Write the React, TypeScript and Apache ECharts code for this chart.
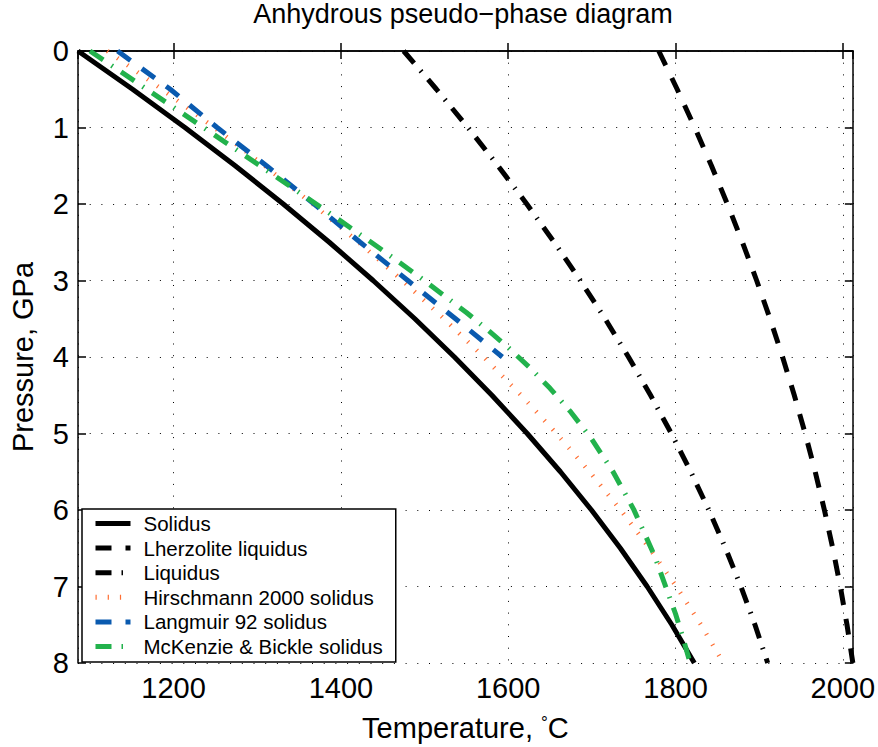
import React, { useEffect, useRef } from 'react';
import * as echarts from 'echarts';

// Pressure grid (GPa) shared by the full-range curves
const pressureGPa = [0, 0.5, 1, 1.5, 2, 2.5, 3, 3.5, 4, 4.5, 5, 5.5, 6, 6.5, 7, 7.5, 8];
// Temperatures (°C) read for each curve
const solidusT = [1085.7, 1150.9, 1213.5, 1273.6, 1331.1, 1386.1, 1438.5, 1488.4, 1535.7, 1580.5, 1622.7, 1662.4, 1699.5, 1734.1, 1766.1, 1795.6, 1822.5];
const lherzoliteLiquidusT = [1780, 1802, 1823, 1843, 1862, 1880, 1897, 1913, 1928, 1942, 1955, 1967, 1978, 1988, 1997, 2005, 2012];
const liquidusT = [1475, 1514.2, 1551.8, 1587.8, 1622.2, 1655, 1686.2, 1715.8, 1743.8, 1770.2, 1795, 1818.2, 1839.8, 1859.8, 1878.2, 1895, 1910.2];
const hirschmannT = [1120.7, 1185.9, 1248.5, 1308.6, 1366.1, 1421.1, 1473.5, 1523.3, 1570.6, 1615.4, 1657.6, 1697.2, 1734.4, 1768.9, 1800.9, 1830.4, 1857.2];
const langmuirP = [0, 0.5, 1, 1.5, 2, 2.5, 3, 3.5, 4];
const langmuirT = [1133, 1196, 1252, 1311, 1368, 1423, 1480, 1537, 1593];
const mckenzieT = [1100, 1150, 1200, 1250, 1300, 1350, 1400, 1450, 1500, 1550, 1575, 1600, 1625, 1650, 1675, 1700, 1725, 1750, 1775, 1800, 1810, 1817.5];
const mckenzieP = [0, 0.368, 0.737, 1.106, 1.476, 1.848, 2.224, 2.607, 3.002, 3.419, 3.641, 3.877, 4.131, 4.409, 4.721, 5.077, 5.494, 5.992, 6.6, 7.356, 7.712, 8.0];

const xTickLabels = [1200, 1400, 1600, 1800, 2000];
const xRange = [1085.7, 2012];
const yRange = [0, 8];

const seriesNames = [
  'Solidus',
  'Lherzolite liquidus',
  'Liquidus',
  'Hirschmann 2000 solidus',
  'Langmuir 92 solidus',
  'McKenzie & Bickle solidus',
];

const FONT = "'Liberation Sans', Arial, Helvetica, sans-serif";

const zip = (xs: number[], ys: number[]) => xs.map((x, i) => [x, ys[i]]);

export default function App() {
  const ref = useRef<HTMLDivElement>(null);
  useEffect(() => {
    if (!ref.current) return;
    const chart = echarts.init(ref.current, undefined, { renderer: 'svg' });
    const axisLine = { show: true, lineStyle: { color: '#000', width: 1.5 } };
    const axisTick = { show: true, inside: true, length: 8, lineStyle: { color: '#000', width: 1.5 } };
    const grid = { show: true, lineStyle: { color: '#000', width: 1, type: [1, 10.7] } };
    const mk = (name: string, data: number[][], color: string, width: number, type: any) => ({
      name,
      type: 'line',
      data,
      symbol: 'none',
      silent: true,
      color,
      itemStyle: { color },
      lineStyle: { color, width, type, cap: 'butt' },
    });
    const option: any = {
      animation: false,
      backgroundColor: '#fff',
      textStyle: { fontFamily: FONT },
      title: {
        text: 'Anhydrous pseudo\u2212phase diagram',
        left: 463,
        top: 0,
        textAlign: 'center',
        padding: 0,
        textStyle: { fontSize: 27, fontWeight: 'normal', color: '#000', fontFamily: FONT },
      },
      grid: { left: 73, right: 25, top: 51, bottom: 83, containLabel: false },
      legend: {
        orient: 'vertical',
        left: 82,
        top: 509,
        data: seriesNames,
        backgroundColor: '#fff',
        borderColor: '#000',
        borderWidth: 1.5,
        borderRadius: 0,
        padding: [4, 13, 5, 11],
        itemWidth: 35,
        itemHeight: 14,
        itemGap: 3.6,
        itemStyle: { color: 'rgba(0,0,0,0)', borderColor: 'rgba(0,0,0,0)', borderWidth: 0, opacity: 0 },
        lineStyle: { width: 5, cap: 'butt' },
        textStyle: { fontSize: 20.5, color: '#000', fontFamily: FONT, padding: [0, 0, 0, 8] },
      },
      xAxis: [
        {
          type: 'value',
          position: 'bottom',
          min: xRange[0],
          max: xRange[1],
          splitNumber: 5,
          name: 'Temperature, {deg|\u00b0}C',
          nameLocation: 'middle',
          nameGap: 50,
          nameTextStyle: {
            fontSize: 29,
            color: '#000',
            fontFamily: FONT,
            rich: { deg: { fontSize: 17, color: '#000', fontFamily: FONT, padding: [0, 0, 10, 0] } },
          },
          axisLine,
          axisTick,
          axisLabel: {
            fontSize: 29,
            color: '#000',
            fontFamily: FONT,
            margin: 10,
            showMinLabel: false,
            showMaxLabel: false,
            formatter: (v: number) => (xTickLabels.includes(Math.round(v)) && Math.abs(v - Math.round(v)) < 1e-6 ? String(Math.round(v)) : ''),
          },
          splitLine: grid,
        },
        {
          type: 'value',
          position: 'top',
          min: xRange[0],
          max: xRange[1],
          splitNumber: 5,
          axisLine,
          axisTick,
          axisLabel: { show: false },
          splitLine: { show: false },
        },
      ],
      yAxis: [
        {
          type: 'value',
          position: 'left',
          inverse: true,
          min: yRange[0],
          max: yRange[1],
          interval: 1,
          name: 'Pressure, GPa',
          nameLocation: 'middle',
          nameRotate: 90,
          nameGap: 41,
          nameTextStyle: { fontSize: 29, color: '#000', fontFamily: FONT },
          axisLine,
          axisTick,
          axisLabel: { fontSize: 29, color: '#000', fontFamily: FONT, margin: 9 },
          splitLine: grid,
        },
        {
          type: 'value',
          position: 'right',
          inverse: true,
          min: yRange[0],
          max: yRange[1],
          interval: 1,
          axisLine,
          axisTick,
          axisLabel: { show: false },
          splitLine: { show: false },
        },
      ],
      series: [
        mk(seriesNames[0], zip(solidusT, pressureGPa), '#000000', 5, 'solid'),
        mk(seriesNames[1], zip(lherzoliteLiquidusT, pressureGPa), '#000000', 5, [16, 14]),
        mk(seriesNames[2], zip(liquidusT, pressureGPa), '#000000', 5, [16, 10, 1.5, 10]),
        mk(seriesNames[3], zip(hirschmannT, pressureGPa), '#ff6e32', 4.5, [1.2, 11]),
        mk(seriesNames[4], zip(langmuirT, langmuirP), '#0a5aaf', 5, [16, 14]),
        mk(seriesNames[5], zip(mckenzieT, mckenzieP), '#22b24c', 5, [16, 10, 1.5, 10]),
      ],
    };
    chart.setOption(option);
    return () => chart.dispose();
  }, []);
  return (
    <div
      ref={ref}
      style={{ position: 'fixed', left: 0, top: 0, width: 878, height: 747, background: '#fff' }}
    />
  );
}
